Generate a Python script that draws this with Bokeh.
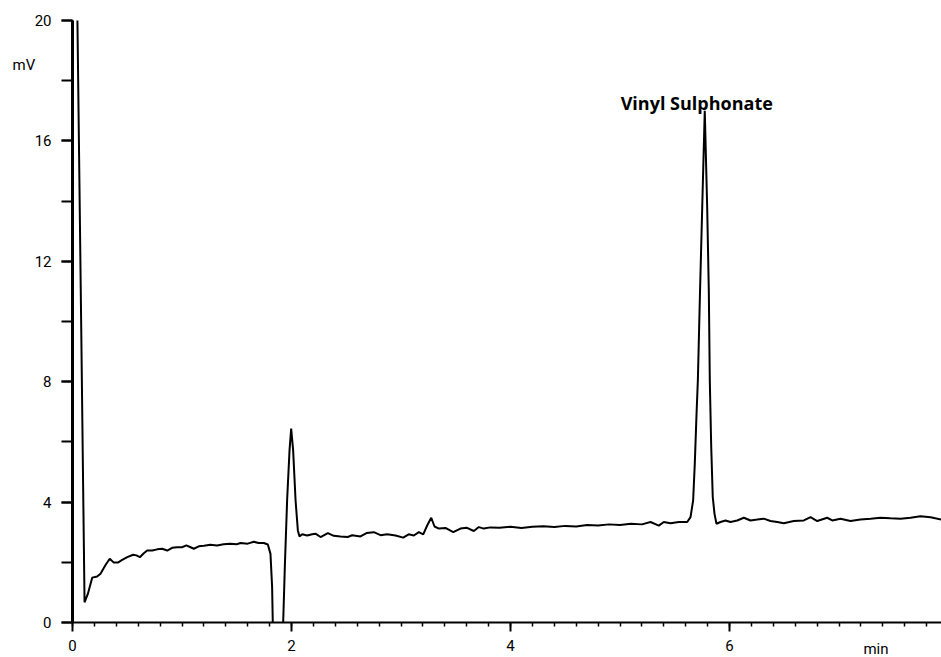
import numpy as np
from bokeh.plotting import figure
from bokeh.models import Range1d, SingleIntervalTicker, Label
from bokeh.embed import file_html
from bokeh.resources import INLINE

NaN = float("nan")

# ---- data (time in min, signal in mV) ----
# the trace leaves the printed scale (above 20 mV / below 0 mV) where NaN breaks it
time_min = [
    0.0, 0.0, 0.0, 0.045, 0.08, 0.11, 0.14, 0.18, 0.225, 0.256, 0.30, 0.34, 0.377,
    0.414, 0.454, 0.50, 0.554, 0.584, 0.615, 0.651, 0.682, 0.728, 0.773, 0.819,
    0.865, 0.91, 0.956, 1.00, 1.04, 1.078, 1.108, 1.153, 1.20, 1.26, 1.32, 1.38,
    1.44, 1.50, 1.534, 1.60, 1.656, 1.70, 1.747, 1.784, 1.808, 1.823, 1.829,
    1.88, 1.924, 1.939, 1.96, 1.982, 1.997, 2.015, 2.037, 2.058, 2.073,
    2.098, 2.143, 2.189, 2.219, 2.265, 2.332, 2.386, 2.447, 2.514, 2.554, 2.63,
    2.685, 2.752, 2.813, 2.874, 2.95, 3.02, 3.07, 3.117, 3.163, 3.203, 3.24,
    3.276, 3.306, 3.346, 3.406, 3.477, 3.543, 3.598, 3.665, 3.711, 3.756, 3.817,
    3.9, 4.0, 4.1, 4.2, 4.3, 4.4, 4.5, 4.6, 4.7, 4.8, 4.9, 5.0, 5.1, 5.2,
    5.279, 5.354, 5.40, 5.461, 5.537, 5.614, 5.644, 5.668, 5.683, 5.699, 5.711,
    5.731, 5.751, 5.774, 5.796, 5.811, 5.82, 5.833, 5.847, 5.863, 5.881, 5.918,
    5.963, 6.009, 6.07, 6.131, 6.192, 6.253, 6.313, 6.374, 6.436, 6.496, 6.587,
    6.679, 6.74, 6.801, 6.892, 6.938, 7.014, 7.105, 7.196, 7.288, 7.379, 7.47,
    7.562, 7.653, 7.744, 7.836, 7.936,
]
signal_mv = [
    0.0, 20.0, NaN, 20.0, 9.7, 0.67, 0.95, 1.49, 1.53, 1.62, 1.90, 2.12, 1.99,
    1.99, 2.08, 2.17, 2.25, 2.23, 2.17, 2.30, 2.39, 2.39, 2.43, 2.45,
    2.39, 2.48, 2.50, 2.50, 2.56, 2.50, 2.45, 2.53, 2.55, 2.58, 2.56, 2.60,
    2.62, 2.60, 2.64, 2.62, 2.68, 2.64, 2.64, 2.59, 2.28, 1.17, 0.0,
    NaN, 0.0, 1.84, 4.06, 5.72, 6.44, 5.72, 4.06, 3.06, 2.86,
    2.93, 2.89, 2.93, 2.95, 2.84, 2.97, 2.88, 2.86, 2.84, 2.90, 2.86,
    2.97, 3.00, 2.90, 2.93, 2.89, 2.82, 2.93, 2.89, 3.00, 2.93, 3.23,
    3.48, 3.19, 3.12, 3.14, 3.00, 3.12, 3.15, 3.04, 3.17, 3.12, 3.16,
    3.15, 3.18, 3.14, 3.18, 3.20, 3.17, 3.21, 3.19, 3.24, 3.22, 3.26, 3.24, 3.28, 3.26,
    3.34, 3.22, 3.34, 3.30, 3.34, 3.34, 3.50, 4.06, 5.28, 6.94, 8.05,
    11.04, 13.81, 17.0, 13.81, 11.04, 8.05, 5.83, 4.17, 3.61, 3.28, 3.34,
    3.39, 3.34, 3.39, 3.48, 3.39, 3.42, 3.45, 3.37, 3.34, 3.30, 3.37,
    3.39, 3.50, 3.37, 3.48, 3.39, 3.45, 3.37, 3.42, 3.45, 3.48, 3.46,
    3.45, 3.48, 3.53, 3.50, 3.42,
]
x_ticks = [0, 2, 4, 6]
y_ticks = [0, 4, 8, 12, 16, 20]
peak_name = "Vinyl Sulphonate"
x_unit = "min"
y_unit = "mV"

t = np.array(time_min)
v = np.array(signal_mv)

FONT = "Roboto"
W, H = 941, 657
X0_PX, Y0_PX, Y20_PX = 72, 622, 20          # pixel positions of t=0, 0 mV, 20 mV
t_end = max(time_min)
px_per_min = (W - X0_PX) / t_end
px_per_mv = (Y0_PX - Y20_PX) / 20.0

p = figure(width=W, height=H, output_backend="svg", toolbar_location=None,
           x_range=Range1d(-X0_PX / px_per_min, t_end),
           y_range=Range1d(-(H - Y0_PX) / px_per_mv, 20 + Y20_PX / px_per_mv),
           min_border=0, min_border_left=0, min_border_right=0,
           min_border_top=0, min_border_bottom=0)
p.xgrid.visible = False
p.ygrid.visible = False
p.outline_line_color = None
p.background_fill_color = "white"
p.border_fill_color = "white"

p.line(t, v, line_color="black", line_width=2)

xa = p.xaxis[0]
xa.fixed_location = 0
xa.bounds = (0, t_end)
xa.ticker = SingleIntervalTicker(interval=2, num_minor_ticks=10)
xa.major_label_overrides = {k: str(k) for k in x_ticks}
xa.axis_line_width = 2
xa.major_tick_out = 9
xa.major_tick_in = 0
xa.minor_tick_out = 4
xa.minor_tick_in = 0
xa.major_tick_line_width = 2
xa.minor_tick_line_width = 1.5
xa.major_label_standoff = 8
xa.major_label_text_font = FONT
xa.major_label_text_font_size = "15px"
xa.major_label_text_color = "black"

ya = p.yaxis[0]
ya.fixed_location = 0
ya.bounds = (0, 20)
ya.ticker = SingleIntervalTicker(interval=4, num_minor_ticks=2)
ya.axis_line_width = 3
ya.major_tick_out = 11
ya.major_tick_in = 0
ya.minor_tick_out = 11
ya.minor_tick_in = 0
ya.major_tick_line_width = 2
ya.minor_tick_line_width = 2
ya.major_label_standoff = 10
ya.major_label_text_font = FONT
ya.major_label_text_font_size = "15px"
ya.major_label_text_color = "black"

# peak label above the main peak
mask = t > 5
idx = np.nanargmax(v[mask])
pk_t = t[mask][idx]
pk_v = v[mask][idx]
p.add_layout(Label(x=pk_t, y=pk_v, x_offset=-8, y_offset=8, text=peak_name,
                   text_align="center", text_baseline="alphabetic",
                   text_font="Open Sans", text_font_style="bold",
                   text_font_size="18px", text_color="black"))

# unit labels
p.add_layout(Label(x=0, y=20, x_offset=-60, y_offset=-44, text=y_unit,
                   text_align="left", text_baseline="alphabetic",
                   text_font=FONT, text_font_size="15px", text_color="black"))
p.add_layout(Label(x=t_end, y=0, x_offset=-53, y_offset=-26, text=x_unit,
                   text_align="right", text_baseline="alphabetic",
                   text_font=FONT, text_font_size="15px", text_color="black"))

open("out.html", "w").write(file_html(p, INLINE))
